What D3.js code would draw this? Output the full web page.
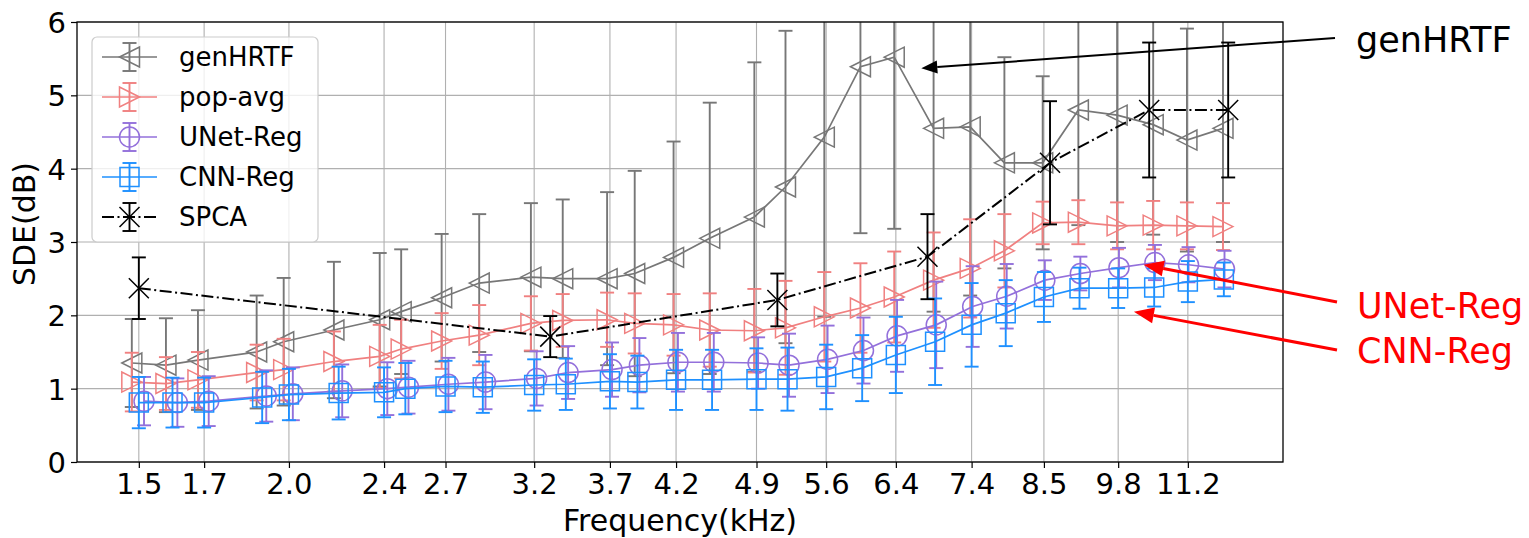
<!DOCTYPE html>
<html>
<head>
<meta charset="utf-8">
<script src="https://cdn.jsdelivr.net/npm/d3@7/dist/d3.min.js"></script>
<style>
  body { margin: 0; background: #fff; }
  text { font-family: "DejaVu Sans", sans-serif; }
</style>
</head>
<body>
<div id="chart"></div>
<script>
// ---------------- data ----------------
const freqs = [1.5, 1.6, 1.7, 1.9, 2.0, 2.2, 2.4, 2.5, 2.7, 2.9,
               3.2, 3.4, 3.7, 3.9, 4.2, 4.5, 4.9, 5.2, 5.6, 6.0,
               6.4, 6.9, 7.4, 7.9, 8.5, 9.1, 9.8, 10.5, 11.2, 12.0];
const tickFreqs = [1.5, 1.7, 2.0, 2.4, 2.7, 3.2, 3.7, 4.2, 4.9, 5.6, 6.4, 7.4, 8.5, 9.8, 11.2];
const yTicks = [0, 1, 2, 3, 4, 5, 6];

const genHRTF    = [1.35, 1.32, 1.39, 1.50, 1.64, 1.80, 1.94, 2.05, 2.24, 2.44,
                    2.52, 2.50, 2.50, 2.57, 2.79, 3.05, 3.34, 3.75, 4.43, 5.39,
                    5.52, 4.55, 4.57, 4.08, 4.08, 4.80, 4.73, 4.60, 4.39, 4.55];
const genHRTFStd = [0.60, 0.64, 0.68, 0.77, 0.87, 0.93, 0.91, 0.85, 0.87, 0.94,
                    1.01, 1.08, 1.18, 1.40, 1.58, 1.85, 2.11, 2.13, 2.45, 2.27,
                    2.34, 2.50, 2.30, 1.44, 1.18, 1.57, 1.73, 1.50, 1.52, 1.55];

const popAvg    = [1.09, 1.07, 1.12, 1.22, 1.26, 1.37, 1.44, 1.54, 1.65, 1.73,
                   1.89, 1.93, 1.94, 1.89, 1.87, 1.80, 1.79, 1.83, 1.98, 2.10,
                   2.25, 2.48, 2.64, 2.88, 3.26, 3.27, 3.22, 3.23, 3.22, 3.21];
const popAvgStd = [0.40, 0.36, 0.38, 0.38, 0.42, 0.41, 0.43, 0.40, 0.38, 0.41,
                   0.37, 0.36, 0.37, 0.41, 0.42, 0.50, 0.57, 0.64, 0.61, 0.61,
                   0.62, 0.65, 0.67, 0.50, 0.29, 0.30, 0.32, 0.33, 0.32, 0.32];

const unetReg    = [0.83, 0.81, 0.83, 0.90, 0.93, 0.97, 1.00, 1.02, 1.06, 1.09,
                    1.14, 1.22, 1.26, 1.32, 1.36, 1.36, 1.35, 1.32, 1.40, 1.52,
                    1.72, 1.87, 2.12, 2.26, 2.48, 2.57, 2.65, 2.72, 2.69, 2.63];
const unetRegStd = [0.33, 0.33, 0.34, 0.35, 0.36, 0.36, 0.36, 0.36, 0.36, 0.37,
                    0.37, 0.36, 0.37, 0.37, 0.40, 0.40, 0.35, 0.43, 0.46, 0.45,
                    0.49, 0.59, 0.55, 0.44, 0.27, 0.23, 0.27, 0.24, 0.24, 0.25];

const cnnReg    = [0.81, 0.81, 0.81, 0.88, 0.92, 0.94, 0.95, 1.00, 1.03, 1.02,
                   1.05, 1.06, 1.10, 1.09, 1.12, 1.12, 1.13, 1.13, 1.16, 1.28,
                   1.46, 1.64, 1.87, 2.03, 2.25, 2.37, 2.37, 2.38, 2.46, 2.49];
const cnnRegStd = [0.35, 0.34, 0.34, 0.35, 0.35, 0.36, 0.34, 0.35, 0.35, 0.35,
                   0.35, 0.35, 0.37, 0.36, 0.41, 0.41, 0.42, 0.43, 0.44, 0.45,
                   0.52, 0.59, 0.57, 0.45, 0.34, 0.28, 0.27, 0.26, 0.28, 0.23];

const spcaFreqs = [1.5, 3.3, 5.1, 6.8, 8.6, 10.4, 12.1];
const spca      = [2.37, 1.71, 2.21, 2.80, 4.08, 4.80, 4.80];
const spcaStd   = [0.42, 0.28, 0.36, 0.58, 0.84, 0.92, 0.92];

// ---------------- layout ----------------
const width = 1529, height = 538;
const margin = {top: 22, right: 246, bottom: 76, left: 77};

const series = [
  {name: "genHRTF",  f: freqs,     v: genHRTF, s: genHRTFStd, color: "#777777", marker: "left",   dodge: -0.02},
  {name: "pop-avg",  f: freqs,     v: popAvg,  s: popAvgStd,  color: "#f08080", marker: "right",  dodge: -0.02},
  {name: "UNet-Reg", f: freqs,     v: unetReg, s: unetRegStd, color: "#9370db", marker: "circle", dodge: 0.015},
  {name: "CNN-Reg",  f: freqs,     v: cnnReg,  s: cnnRegStd,  color: "#1e90ff", marker: "square", dodge: 0},
  {name: "SPCA",     f: spcaFreqs, v: spca,    s: spcaStd,    color: "#000000", marker: "x",      dodge: 0,
   dash: "12,3.5,2,3.5", lw: 2}
];

series.forEach(sr => {
  sr.points = sr.f.map((f, i) => ({f: f + sr.dodge, v: sr.v[i], s: sr.s[i]}));
});

// x limits like matplotlib autoscale (5% margin in log space)
const allF = series.flatMap(sr => sr.points.map(p => p.f));
const [fmin, fmax] = d3.extent(allF);
const pad = 0.05 * Math.log(fmax / fmin);

const x = d3.scaleLog()
  .domain([fmin * Math.exp(-pad), fmax * Math.exp(pad)])
  .range([margin.left, width - margin.right]);
const y = d3.scaleLinear()
  .domain([0, 6])
  .range([height - margin.bottom, margin.top]);

const svg = d3.select("#chart").append("svg")
  .attr("width", width)
  .attr("height", height)
  .attr("viewBox", [0, 0, width, height]);

svg.append("defs").append("clipPath").attr("id", "plotclip")
  .append("rect")
  .attr("x", margin.left).attr("y", margin.top)
  .attr("width", width - margin.left - margin.right)
  .attr("height", height - margin.top - margin.bottom);

// grid
const grid = svg.append("g").attr("stroke", "#b0b0b0").attr("stroke-width", 1.1);
grid.selectAll("line.vx").data(tickFreqs).join("line")
  .attr("x1", d => x(d)).attr("x2", d => x(d))
  .attr("y1", margin.top).attr("y2", height - margin.bottom);
grid.selectAll("line.hy").data(yTicks).join("line")
  .attr("x1", margin.left).attr("x2", width - margin.right)
  .attr("y1", d => y(d)).attr("y2", d => y(d));

// axes
const xAxis = svg.append("g")
  .attr("transform", `translate(0,${height - margin.bottom})`)
  .call(d3.axisBottom(x).tickValues(tickFreqs).tickFormat(d3.format(".1f")).tickSize(6).tickPadding(5));
const yAxis = svg.append("g")
  .attr("transform", `translate(${margin.left},0)`)
  .call(d3.axisLeft(y).tickValues(yTicks).tickFormat(d3.format("d")).tickSize(6).tickPadding(5));
[xAxis, yAxis].forEach(ax => {
  ax.select(".domain").remove();
  ax.selectAll(".tick line").attr("stroke", "#000").attr("stroke-width", 1.2);
  ax.selectAll(".tick text").attr("font-size", 29).attr("fill", "#000")
    .attr("font-family", "DejaVu Sans");
});
yAxis.selectAll(".tick text").attr("dy", "0.36em");

// markers
function markerPath(type, r) {
  switch (type) {
    case "left":   return `M${-r},0L${r},${-r}L${r},${r}Z`;
    case "right":  return `M${r},0L${-r},${-r}L${-r},${r}Z`;
    case "square": return `M${-r},${-r}H${r}V${r}H${-r}Z`;
    case "x":      return `M${-r},${-r}L${r},${r}M${-r},${r}L${r},${-r}`;
    default:       return "";
  }
}

function drawMarker(g, type, color) {
  if (type === "circle") {
    g.append("circle").attr("r", 10).attr("fill", "none")
      .attr("stroke", color).attr("stroke-width", 1.5);
  } else {
    g.append("path").attr("d", markerPath(type, type === "square" ? 9.5 : 10))
      .attr("fill", "none").attr("stroke", color).attr("stroke-width", 1.5);
  }
}

const cap = 7;
const plot = svg.append("g").attr("clip-path", "url(#plotclip)");

series.forEach(sr => {
  const g = plot.append("g");
  // error bars
  const eb = g.append("g").attr("stroke", sr.color).attr("stroke-width", 1.9);
  sr.points.forEach(p => {
    const cx = x(p.f), y0 = y(p.v - p.s), y1 = y(p.v + p.s);
    eb.append("line").attr("x1", cx).attr("x2", cx).attr("y1", y0).attr("y2", y1);
    eb.append("line").attr("x1", cx - cap).attr("x2", cx + cap).attr("y1", y0).attr("y2", y0);
    eb.append("line").attr("x1", cx - cap).attr("x2", cx + cap).attr("y1", y1).attr("y2", y1);
  });
  // line
  g.append("path")
    .datum(sr.points)
    .attr("fill", "none")
    .attr("stroke", sr.color)
    .attr("stroke-width", sr.lw || 1.7)
    .attr("stroke-dasharray", sr.dash || null)
    .attr("d", d3.line().x(d => x(d.f)).y(d => y(d.v)));
  // markers
  sr.points.forEach(p => {
    const m = g.append("g").attr("transform", `translate(${x(p.f)},${y(p.v)})`);
    drawMarker(m, sr.marker, sr.color);
  });
});

// frame
svg.append("rect")
  .attr("x", margin.left).attr("y", margin.top)
  .attr("width", width - margin.left - margin.right)
  .attr("height", height - margin.top - margin.bottom)
  .attr("fill", "none").attr("stroke", "#000").attr("stroke-width", 1.3);

// axis labels
svg.append("text")
  .attr("x", (margin.left + width - margin.right) / 2)
  .attr("y", 531)
  .attr("text-anchor", "middle")
  .attr("font-size", 30)
  .text("Frequency(kHz)");
svg.append("text")
  .attr("transform", "translate(35,224) rotate(-90)")
  .attr("text-anchor", "middle")
  .attr("font-size", 30)
  .text("SDE(dB)");

// legend
const legend = svg.append("g").attr("transform", "translate(92,37)");
legend.append("rect")
  .attr("width", 226).attr("height", 205).attr("rx", 5)
  .attr("fill", "#fff").attr("fill-opacity", 0.8)
  .attr("stroke", "#cccccc").attr("stroke-width", 1.2);
series.forEach((sr, i) => {
  const row = legend.append("g").attr("transform", `translate(0,${20 + i * 40})`);
  row.append("line").attr("x1", 10).attr("x2", 65).attr("y1", 0).attr("y2", 0)
    .attr("stroke", sr.color).attr("stroke-width", sr.lw || 1.7)
    .attr("stroke-dasharray", sr.dash || null);
  const h = row.append("g").attr("stroke", sr.color).attr("stroke-width", 1.9);
  h.append("line").attr("x1", 37.5).attr("x2", 37.5).attr("y1", -14).attr("y2", 14);
  h.append("line").attr("x1", 37.5 - cap).attr("x2", 37.5 + cap).attr("y1", -14).attr("y2", -14);
  h.append("line").attr("x1", 37.5 - cap).attr("x2", 37.5 + cap).attr("y1", 14).attr("y2", 14);
  drawMarker(row.append("g").attr("transform", "translate(37.5,0)"), sr.marker, sr.color);
  row.append("text").attr("x", 87).attr("y", 0).attr("dy", "0.36em")
    .attr("font-size", 26).text(sr.name);
});

// annotations
const notes = [
  {text: "genHRTF",  color: "#000",    tx: 1356, ty: 52,  from: [1335, 38],  to: [6.72, 5.37], lw: 2},
  {text: "UNet-Reg", color: "#ff0000", tx: 1357, ty: 318, from: [1337, 302], to: [10.29, 2.69], lw: 3},
  {text: "CNN-Reg",  color: "#ff0000", tx: 1357, ty: 363, from: [1337, 350], to: [10.1, 2.05], lw: 3}
];
notes.forEach(n => {
  const x1 = x(n.to[0]), y1 = y(n.to[1]);
  const [x0, y0] = n.from;
  const ang = Math.atan2(y1 - y0, x1 - x0);
  const hl = n.lw === 2 ? 16 : 20, hw = n.lw === 2 ? 6.5 : 8;
  const bx = x1 - hl * Math.cos(ang), by = y1 - hl * Math.sin(ang);
  svg.append("line").attr("x1", x0).attr("y1", y0).attr("x2", bx).attr("y2", by)
    .attr("stroke", n.color).attr("stroke-width", n.lw);
  svg.append("path")
    .attr("d", `M${x1},${y1}L${bx - hw * Math.sin(ang)},${by + hw * Math.cos(ang)}L${bx + hw * Math.sin(ang)},${by - hw * Math.cos(ang)}Z`)
    .attr("fill", n.color);
  svg.append("text").attr("x", n.tx).attr("y", n.ty)
    .attr("font-family", "Liberation Sans, Arial, sans-serif")
    .attr("font-size", 35).attr("fill", n.color)
    .text(n.text);
});
</script>
</body>
</html>
